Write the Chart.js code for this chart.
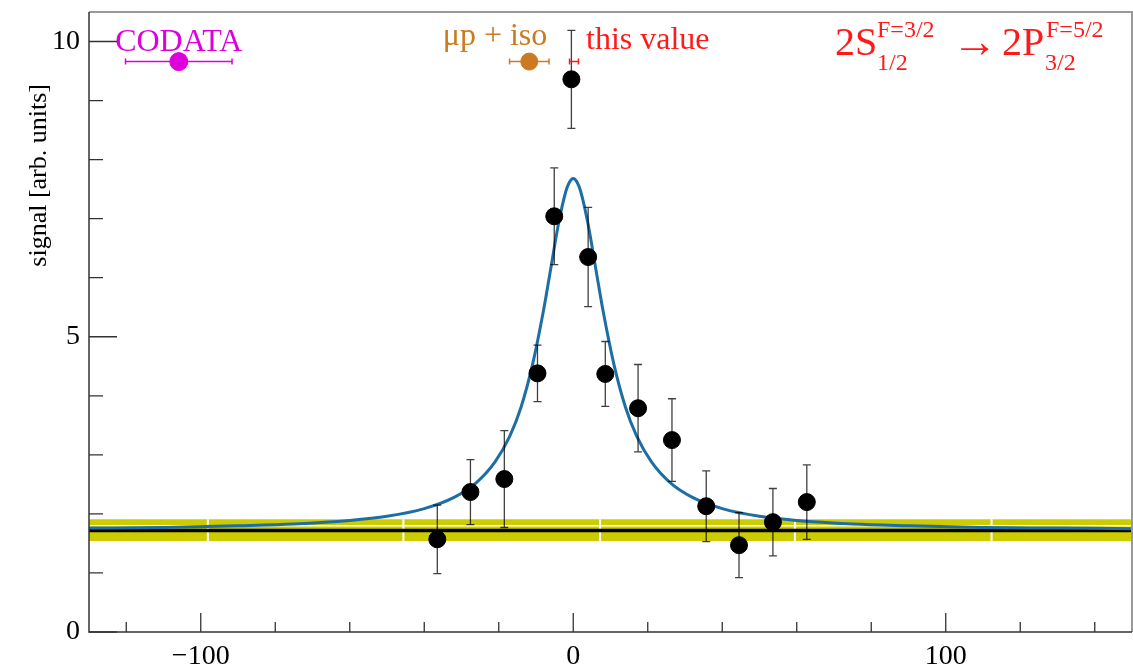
<!DOCTYPE html>
<html>
<head>
<meta charset="utf-8">
<script src="https://cdn.jsdelivr.net/npm/chart.js@4.4.0/dist/chart.umd.min.js"></script>
<style>
  body { margin: 0; background: #fff; overflow: hidden; }
  canvas { display: block; }
</style>
</head>
<body>
<canvas id="scanChart" width="1133" height="667"></canvas>
<script>
// measured points (x, signal, error)
const pointX = [-36.5, -27.6, -18.5, -9.6, -5.1, -0.5, 4.0, 8.6, 17.4, 26.5, 35.7, 44.5, 53.6, 62.7];
const pointY = [1.57, 2.37, 2.59, 4.38, 7.04, 9.36, 6.35, 4.37, 3.79, 3.25, 2.13, 1.47, 1.86, 2.20];
const pointErr = [0.58, 0.55, 0.82, 0.48, 0.82, 0.83, 0.84, 0.55, 0.74, 0.70, 0.60, 0.55, 0.57, 0.63];

// fitted line shape
const fitX = [-130, -110, -90, -75, -60, -50, -40, -32, -26, -21, -17, -14, -11, -8, -6, -4, -2, -1, 0,
              1, 2, 4, 6, 8, 11, 14, 17, 21, 26, 32, 40, 50, 60, 75, 90, 110, 130, 150];
const fitY = [1.76, 1.77, 1.80, 1.83, 1.89, 1.96, 2.09, 2.28, 2.53, 2.88, 3.32, 3.81, 4.51, 5.44, 6.17, 6.90, 7.46, 7.62, 7.68,
              7.62, 7.46, 6.90, 6.17, 5.44, 4.51, 3.81, 3.32, 2.88, 2.53, 2.28, 2.09, 1.96, 1.89, 1.83, 1.80, 1.77, 1.76, 1.75];

// background level and its band
const bandX = [-130, 150];
const bandLow = [1.54, 1.54];
const bandHigh = [1.91, 1.91];
const bandInner = [1.80, 1.80];
const bgLevel = [1.72, 1.72];

// reference values at the top
const refLabels = ['CODATA', '\u03bcp + iso', 'this value'];
const refX = [-105.9, -11.8, 0.2];
const refXErr = [14.3, 5.3, 1.2];
const refY = [9.66, 9.66, 9.66];
const refColors = ['#dd00dd', '#cc7a22', '#ff1a1a'];

// ticks
const xTickValues = [-120, -100, -80, -60, -40, -20, 0, 20, 40, 60, 80, 100, 120, 140];
const xLabelValues = [-100, 0, 100];
const yTickValues = [0, 1, 2, 3, 4, 5, 6, 7, 8, 9, 10];
const yLabelValues = [0, 5, 10];

const serif = "'Liberation Serif', 'DejaVu Serif', serif";
Chart.defaults.font.family = serif;

const toPts = (xs, ys) => xs.map((v, i) => ({ x: v, y: ys[i] }));
const minus = v => String(v).replace('-', '\u2212');

// small white breaks in the yellow band (dash joins in the original)
const bandBreaks = [-98.1, -45.6, 7.2, 59.5, 112.3];
const bandBreaksPlugin = {
    id: 'bandBreaks',
    afterDatasetDraw(chart, args) {
        if (args.meta.label !== 'band high') return;
        const { ctx, scales: { x, y } } = chart;
        const top = y.getPixelForValue(bandHigh[0]);
        const bot = y.getPixelForValue(bandLow[0]);
        ctx.save();
        ctx.strokeStyle = '#fff';
        ctx.lineWidth = 2;
        ctx.beginPath();
        bandBreaks.forEach(v => {
            const px = x.getPixelForValue(v);
            ctx.moveTo(px, top); ctx.lineTo(px, bot);
        });
        ctx.stroke();
        ctx.restore();
    }
};

// error bars, axes, ticks and text drawn on top of the datasets
const decorations = {
    id: 'decorations',
    afterDatasetsDraw(chart) {
        const { ctx, chartArea: a, scales: { x, y } } = chart;
        ctx.save();

        // vertical error bars
        ctx.strokeStyle = 'rgba(0,0,0,0.75)';
        ctx.lineWidth = 1.3;
        pointX.forEach((v, i) => {
            const px = x.getPixelForValue(v);
            const top = y.getPixelForValue(pointY[i] + pointErr[i]);
            const bot = y.getPixelForValue(pointY[i] - pointErr[i]);
            ctx.beginPath();
            ctx.moveTo(px, top); ctx.lineTo(px, bot);
            ctx.moveTo(px - 4, top); ctx.lineTo(px + 4, top);
            ctx.moveTo(px - 4, bot); ctx.lineTo(px + 4, bot);
            ctx.stroke();
        });

        // horizontal error bars of the reference values
        refX.forEach((v, i) => {
            const py = y.getPixelForValue(refY[i]);
            const l = x.getPixelForValue(v - refXErr[i]);
            const r = x.getPixelForValue(v + refXErr[i]);
            ctx.strokeStyle = refColors[i];
            ctx.lineWidth = 1.5;
            ctx.beginPath();
            ctx.moveTo(l, py); ctx.lineTo(r, py);
            ctx.moveTo(l, py - 3); ctx.lineTo(l, py + 3);
            ctx.moveTo(r, py - 3); ctx.lineTo(r, py + 3);
            ctx.stroke();
        });

        // reference labels
        ctx.font = '32px ' + serif;
        ctx.textBaseline = 'alphabetic';
        const aligns = ['center', 'right', 'left'];
        const shifts = [0, 18, 12];
        const lifts = [11, 17, 13];
        refLabels.forEach((t, i) => {
            ctx.fillStyle = refColors[i];
            ctx.textAlign = aligns[i];
            ctx.fillText(t, x.getPixelForValue(refX[i]) + shifts[i], y.getPixelForValue(refY[i]) - lifts[i]);
        });

        // frame
        ctx.strokeStyle = '#999';
        ctx.lineWidth = 2;
        ctx.beginPath();
        ctx.moveTo(a.left, a.top); ctx.lineTo(a.right, a.top); ctx.lineTo(a.right, a.bottom);
        ctx.stroke();
        ctx.strokeStyle = '#333';
        ctx.lineWidth = 1.5;
        ctx.beginPath();
        ctx.moveTo(a.left, a.top); ctx.lineTo(a.left, a.bottom); ctx.lineTo(a.right, a.bottom);
        ctx.stroke();

        // inward tick marks
        ctx.lineWidth = 1.3;
        ctx.beginPath();
        xTickValues.forEach(v => {
            const px = x.getPixelForValue(v);
            const len = xLabelValues.includes(v) ? 19 : 10;
            ctx.moveTo(px, a.bottom); ctx.lineTo(px, a.bottom - len);
        });
        yTickValues.forEach(v => {
            const py = y.getPixelForValue(v);
            const len = yLabelValues.includes(v) ? 28 : 14;
            ctx.moveTo(a.left, py); ctx.lineTo(a.left + len, py);
        });
        ctx.stroke();

        // y axis title
        ctx.save();
        ctx.translate(46, 84);
        ctx.rotate(-Math.PI / 2);
        ctx.fillStyle = '#000';
        ctx.font = '26px ' + serif;
        ctx.textAlign = 'right';
        ctx.fillText('signal [arb. units]', 0, 0);
        ctx.restore();

        // transition label
        ctx.fillStyle = '#ff1a1a';
        ctx.textAlign = 'left';
        ctx.font = '40px ' + serif;
        ctx.fillText('2S', 835, 55);
        ctx.fillText('2P', 1002, 55);
        ctx.font = '46px ' + serif;
        ctx.fillText('\u2192', 952, 57);
        ctx.font = '24px ' + serif;
        ctx.fillText('F=3/2', 877, 37);
        ctx.fillText('1/2', 877, 70);
        ctx.fillText('F=5/2', 1046, 37);
        ctx.fillText('3/2', 1045, 70);

        ctx.restore();
    }
};

const ctx = document.getElementById('scanChart').getContext('2d');
const scanChart = new Chart(ctx, {
    type: 'scatter',
    data: {
        datasets: [
            {
                label: 'data',
                data: toPts(pointX, pointY),
                backgroundColor: '#000',
                borderColor: '#000',
                pointRadius: 8.5,
                order: 0
            },
            {
                label: 'references',
                data: toPts(refX, refY),
                backgroundColor: refColors,
                borderColor: refColors,
                pointRadius: [9, 8.5, 0],
                order: 0
            },
            {
                label: 'fit',
                type: 'line',
                data: toPts(fitX, fitY),
                borderColor: '#1c6ea4',
                borderWidth: 3,
                pointRadius: 0,
                cubicInterpolationMode: 'monotone',
                fill: false,
                order: 1
            },
            {
                label: 'background',
                type: 'line',
                data: toPts(bandX, bgLevel),
                borderColor: '#000',
                borderWidth: 3.5,
                pointRadius: 0,
                fill: false,
                order: 2
            },
            {
                label: 'band inner',
                type: 'line',
                data: toPts(bandX, bandInner),
                borderColor: '#ffffff',
                borderWidth: 1.5,
                pointRadius: 0,
                fill: false,
                order: 3
            },
            {
                label: 'band high',
                type: 'line',
                data: toPts(bandX, bandHigh),
                borderColor: '#cccc00',
                borderWidth: 0,
                backgroundColor: '#cccc00',
                pointRadius: 0,
                fill: '+1',
                order: 4
            },
            {
                label: 'band low',
                type: 'line',
                data: toPts(bandX, bandLow),
                borderColor: '#cccc00',
                borderWidth: 0,
                pointRadius: 0,
                fill: false,
                order: 5
            }
        ]
    },
    options: {
        responsive: false,
        animation: false,
        layout: { autoPadding: false, padding: { top: 12, right: 1, left: 0, bottom: 0 } },
        plugins: {
            legend: { display: false },
            tooltip: { enabled: false }
        },
        scales: {
            x: {
                type: 'linear',
                min: -130,
                max: 150,
                afterBuildTicks: s => { s.ticks = xTickValues.map(v => ({ value: v })); },
                afterFit: s => { s.height = 35; s.paddingLeft = 0; s.paddingRight = 0; },
                grid: { display: false, drawTicks: false },
                border: { display: false },
                ticks: {
                    autoSkip: false,
                    maxRotation: 0,
                    padding: 8,
                    color: '#000',
                    font: { size: 28 },
                    callback: v => xLabelValues.includes(v) ? minus(v) : ''
                }
            },
            y: {
                type: 'linear',
                min: 0,
                max: 10.5,
                afterBuildTicks: s => { s.ticks = yTickValues.map(v => ({ value: v })); },
                afterFit: s => { s.width = 89; s.paddingTop = 0; s.paddingBottom = 0; },
                grid: { display: false, drawTicks: false },
                border: { display: false },
                ticks: {
                    autoSkip: false,
                    padding: 9,
                    color: '#000',
                    font: { size: 28 },
                    callback: v => yLabelValues.includes(v) ? String(v) : ''
                }
            }
        }
    },
    plugins: [bandBreaksPlugin, decorations]
});
</script>
</body>
</html>
